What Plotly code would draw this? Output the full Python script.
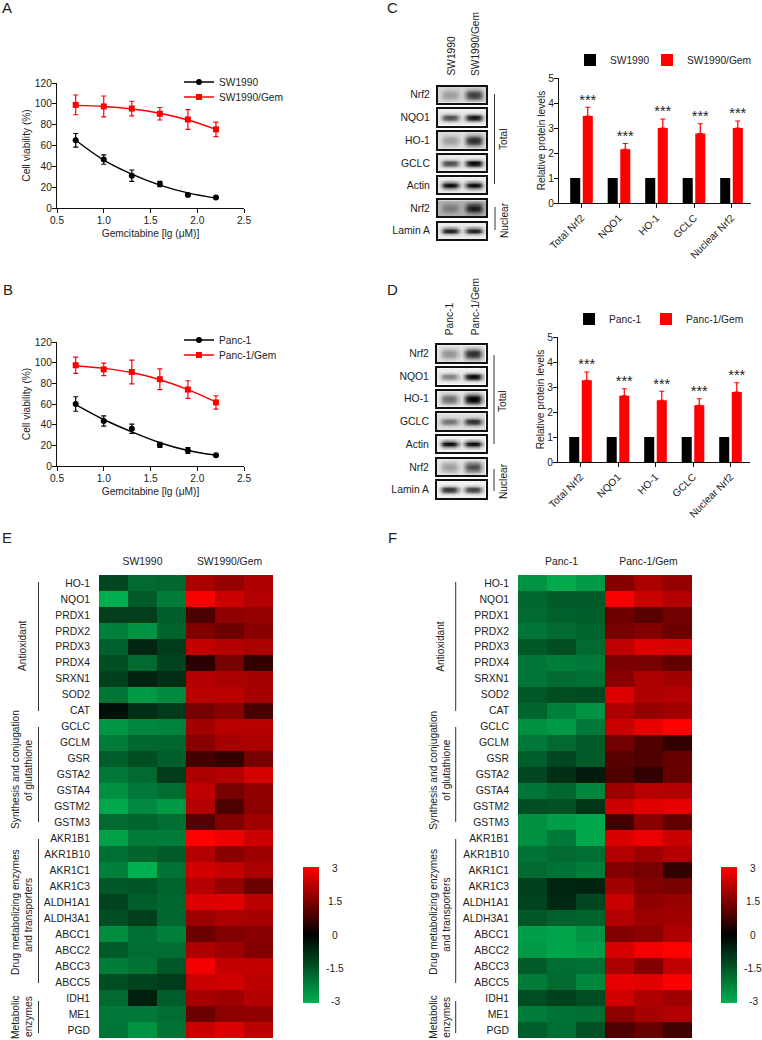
import plotly.graph_objects as go

W, H = 762, 1040
FONT = "Liberation Sans"
INK = "#222222"

# ---------- dose response ----------
dose = [0.7, 1.0, 1.3, 1.6, 1.9, 2.2]
sw = [65, 46.5, 31, 23, 12.5, 10]
sw_err = [6.5, 4.5, 5.5, 2.5, 1, 0.8]
sw_fit = [65, 46, 32.5, 22, 14.5, 9.5]
sw_gem = [99, 97.5, 95.5, 90.5, 85, 75.5]
sw_gem_err = [9.5, 10, 7, 6, 9.5, 7]
sw_gem_fit = [98.5, 97.5, 95, 91, 84.5, 75.5]
panc = [60, 43.5, 36, 20.5, 15, 10.5]
panc_err = [7, 5, 4.5, 2.5, 2.7, 0.8]
panc_fit = [59.5, 45, 33, 22.5, 15, 10.5]
panc_gem = [97.5, 93.5, 91, 84, 74, 61.5]
panc_gem_err = [7.8, 6, 11.5, 10, 8.5, 6.5]
panc_gem_fit = [97, 94.5, 90.5, 83.5, 74, 62]

# ---------- relative protein levels ----------
protein_cats = ["Total Nrf2", "NQO1", "HO-1", "GCLC", "Nuclear Nrf2"]
base_level = [1, 1, 1, 1, 1]
c_level = [3.48, 2.15, 3.0, 2.78, 3.0]
c_err = [0.35, 0.23, 0.36, 0.39, 0.28]
d_level = [3.27, 2.65, 2.47, 2.27, 2.8]
d_err = [0.33, 0.28, 0.36, 0.26, 0.37]

# ---------- western blot band darkness ----------
blot_names = ["Nrf2", "NQO1", "HO-1", "GCLC", "Actin", "Nrf2", "Lamin A"]
c_bg = [0.16, 0.08, 0.13, 0.08, 0.08, 0.30, 0.08]
c_lane1 = [0.22, 0.62, 0.24, 0.62, 0.9, 0.22, 0.8]
c_lane2 = [0.6, 0.85, 0.7, 0.9, 0.9, 0.6, 0.8]
d_bg = [0.10, 0.07, 0.08, 0.13, 0.05, 0.10, 0.05]
d_lane1 = [0.32, 0.42, 0.48, 0.42, 0.9, 0.28, 0.75]
d_lane2 = [0.72, 0.9, 0.92, 0.7, 0.9, 0.6, 0.7]
fuzzy = [True, False, True, False, False, True, False]
lane_profile = [0, 0.35, 0.9, 1, 1, 0.9, 0.45, 0.1, 0.45, 0.9, 1, 1, 0.9, 0.35, 0]
lane_index = [0, 0, 0, 0, 0, 0, 0, 0, 1, 1, 1, 1, 1, 1, 1]
row_sharp = [0, 0, 0.3, 0.95, 1, 0.35, 0, 0]
row_fuzzy = [0, 0.25, 0.7, 1, 1, 0.7, 0.25, 0]

# ---------- heat maps ----------
genes = ["HO-1", "NQO1", "PRDX1", "PRDX2", "PRDX3", "PRDX4", "SRXN1", "SOD2", "CAT",
         "GCLC", "GCLM", "GSR", "GSTA2", "GSTA4", "GSTM2", "GSTM3",
         "AKR1B1", "AKR1B10", "AKR1C1", "AKR1C3", "ALDH1A1", "ALDH3A1", "ABCC1", "ABCC2", "ABCC3", "ABCC5",
         "IDH1", "ME1", "PGD"]
e_values = [
    [-1.2, -1.8, -1.75, 2.0, 1.75, 2.05], [-2.95, -1.55, -2.1, 2.9, 2.4, 2.1],
    [-1.05, -1.05, -1.6, 0.9, 1.7, 1.75], [-2.2, -2.5, -1.7, 1.5, 1.3, 1.6],
    [-1.65, -0.65, -1.0, 2.3, 2.1, 2.0], [-1.35, -1.8, -1.15, 0.5, 1.4, 0.6],
    [-1.1, -0.6, -0.8, 2.1, 2.0, 1.95], [-2.0, -2.6, -2.35, 2.15, 2.2, 1.95],
    [-0.25, -0.8, -1.0, 1.4, 1.6, 0.85], [-2.55, -2.3, -2.25, 1.9, 2.15, 2.15],
    [-2.1, -1.75, -1.75, 1.6, 1.95, 2.0], [-1.6, -1.35, -1.6, 0.8, 0.6, 1.4],
    [-2.05, -1.8, -1.0, 2.0, 2.1, 2.5], [-2.45, -2.05, -1.85, 2.25, 1.4, 1.7],
    [-2.85, -2.35, -2.6, 2.1, 0.9, 1.65], [-1.8, -1.7, -1.85, 1.0, 1.5, 1.9],
    [-2.75, -2.1, -2.15, 3.0, 2.8, 2.4], [-1.9, -1.7, -1.55, 2.1, 1.6, 1.85],
    [-2.2, -3.0, -1.95, 2.45, 2.3, 2.0], [-1.5, -1.45, -1.7, 2.1, 1.75, 1.25],
    [-1.15, -1.6, -1.75, 2.6, 2.65, 2.2], [-1.35, -1.05, -1.75, 1.85, 2.0, 1.95],
    [-2.4, -1.9, -2.2, 1.25, 1.5, 1.6], [-1.55, -1.85, -1.85, 2.05, 1.85, 1.55],
    [-2.1, -1.95, -1.5, 2.85, 2.3, 2.3], [-1.35, -1.15, -1.0, 2.35, 2.45, 2.2],
    [-1.8, -0.55, -1.6, 1.95, 1.85, 2.1], [-2.05, -2.05, -1.85, 1.25, 1.65, 1.7],
    [-2.0, -2.5, -1.95, 2.35, 2.6, 2.2],
]
f_values = [
    [-2.5, -2.9, -2.6, 1.55, 2.0, 1.75], [-1.75, -1.55, -1.55, 2.9, 2.35, 2.1],
    [-1.8, -1.65, -1.6, 1.3, 1.05, 1.35], [-2.0, -1.8, -1.7, 1.4, 1.55, 1.25],
    [-1.5, -1.3, -1.8, 2.25, 2.6, 2.55], [-2.0, -2.15, -2.05, 1.45, 1.4, 1.15],
    [-2.0, -1.8, -1.9, 1.6, 2.0, 1.9], [-1.5, -1.3, -1.25, 2.6, 2.05, 2.1],
    [-1.7, -2.2, -2.5, 2.05, 1.75, 1.9], [-2.45, -2.6, -2.05, 2.35, 2.7, 3.0],
    [-2.05, -1.8, -1.55, 1.35, 0.95, 0.6], [-1.6, -1.2, -1.55, 1.05, 0.95, 1.2],
    [-1.2, -0.8, -0.45, 0.95, 0.6, 1.2], [-2.0, -1.75, -2.3, 1.85, 2.15, 2.1],
    [-1.35, -1.4, -0.9, 2.4, 2.65, 2.7], [-2.45, -2.7, -2.85, 0.8, 1.6, 1.15],
    [-2.45, -2.05, -2.85, 2.55, 2.75, 2.35], [-1.95, -1.8, -1.9, 2.1, 1.85, 2.1],
    [-1.8, -1.95, -2.15, 1.55, 1.4, 0.6], [-1.1, -0.65, -0.6, 1.9, 1.5, 1.4],
    [-1.15, -0.7, -1.2, 2.35, 1.7, 1.8], [-1.5, -1.65, -1.7, 2.1, 1.85, 1.9],
    [-2.7, -2.8, -2.5, 1.5, 1.65, 2.05], [-2.6, -2.8, -2.7, 2.5, 2.85, 3.0],
    [-1.55, -1.85, -1.9, 2.0, 1.55, 2.25], [-2.1, -1.8, -2.3, 2.7, 2.65, 2.95],
    [-1.3, -1.1, -1.3, 2.45, 2.05, 1.85], [-2.15, -1.95, -1.85, 1.65, 1.95, 2.1],
    [-1.6, -1.9, -1.4, 0.9, 1.2, 0.75],
]
scale_ticks = [3, 1.5, 0, -1.5, -3]
heat_scale = [[0, "#00B050"], [0.5, "#000000"], [1, "#FF0000"]]

fig = go.Figure()
layout = {}
annotations = []
shapes = []
axis_no = [0]
legend_no = [0]


def px(x):
    return x / W


def py(y):
    return 1 - y / H


def new_axes(x0, x1, y_top, y_bottom, xopts, yopts):
    axis_no[0] += 1
    n = axis_no[0]
    sfx = "" if n == 1 else str(n)
    layout["xaxis" + sfx] = dict(domain=[px(x0), px(x1)], anchor="y" + sfx, **xopts)
    layout["yaxis" + sfx] = dict(domain=[py(y_bottom), py(y_top)], anchor="x" + sfx, **yopts)
    return "x" + sfx, "y" + sfx


def new_legend(x, y):
    legend_no[0] += 1
    n = legend_no[0]
    key = "legend" if n == 1 else "legend" + str(n)
    layout[key] = dict(x=px(x), y=py(y), xanchor="left", yanchor="middle", bgcolor="rgba(0,0,0,0)",
                       borderwidth=0, font=dict(family=FONT, size=10.2, color=INK), itemclick=False)
    return key


def text(x, y, s, size=10.2, angle=0, xanchor="center", yanchor="middle"):
    annotations.append(dict(x=px(x), y=py(y), xref="paper", yref="paper", text=s, showarrow=False,
                            textangle=angle, xanchor=xanchor, yanchor=yanchor,
                            font=dict(family=FONT, size=size, color=INK)))


def vline(x, y0, y1):
    shapes.append(dict(type="line", xref="paper", yref="paper", x0=px(x), x1=px(x), y0=py(y0), y1=py(y1),
                       line=dict(color="#333333", width=1)))


AX = dict(showgrid=False, zeroline=False, showline=True, linecolor="#111111", linewidth=1.2,
          ticks="outside", ticklen=4, tickwidth=1.2, tickcolor="#111111",
          tickfont=dict(family=FONT, size=10.2, color=INK))


def curve_panel(y_top, y_bottom, name_a, a, a_err, a_fit, name_b, b, b_err, b_fit, leg_y):
    xa, ya = new_axes(57, 244, y_top, y_bottom,
                      dict(AX, range=[0.5, 2.5], tickvals=[0.5, 1, 1.5, 2, 2.5], tickformat=".1f", automargin=True,
                           ticklabelstandoff=-1,
                           title=dict(text="Gemcitabine [lg (μM)]", standoff=4,
                                      font=dict(family=FONT, size=10.2, color=INK))),
                      dict(AX, range=[0, 120], tickvals=[0, 20, 40, 60, 80, 100, 120], automargin=True,
                           ticklabelstandoff=-2,
                           title=dict(text="Cell viability (%)", standoff=2,
                                      font=dict(family=FONT, size=10.2, color=INK))))
    for name, vals, err, fit, color, sym, ly in [(name_a, a, a_err, a_fit, "#000000", "circle", leg_y[0]),
                                                 (name_b, b, b_err, b_fit, "#FF0000", "square", leg_y[1])]:
        fig.add_trace(go.Scatter(x=dose, y=fit, mode="lines", showlegend=False, xaxis=xa, yaxis=ya,
                                 line=dict(color=color, width=1.4, shape="spline")))
        fig.add_trace(go.Scatter(x=dose, y=vals, mode="markers", showlegend=False, xaxis=xa, yaxis=ya,
                                 marker=dict(color=color, symbol=sym, size=6),
                                 error_y=dict(type="data", array=err, color=color, thickness=1.2, width=2.5)))
        fig.add_trace(go.Scatter(x=[None], y=[None], name=name, mode="lines+markers", xaxis=xa, yaxis=ya,
                                 line=dict(color=color, width=1.4), marker=dict(color=color, symbol=sym, size=6),
                                 legend=new_legend(179, ly)))


def bar_panel(x0, x1, y_top, y_bottom, name_a, name_b, level, err, leg_y, leg_x):
    xa, ya = new_axes(x0, x1, y_top, y_bottom,
                      dict(AX, range=[-0.6, 4.52], tickvals=list(range(len(protein_cats))),
                           ticktext=protein_cats, tickangle=-45),
                      dict(AX, range=[0, 5], tickvals=[0, 1, 2, 3, 4, 5], automargin=True,
                           ticklabelstandoff=-2,
                           title=dict(text="Relative protein levels", standoff=0,
                                      font=dict(family=FONT, size=10.2, color=INK))))
    xs = list(range(len(protein_cats)))
    fig.add_trace(go.Bar(x=xs, y=base_level, name=name_a, marker=dict(color="#000000", line_width=0),
                         xaxis=xa, yaxis=ya, legend=new_legend(leg_x[0], leg_y)))
    fig.add_trace(go.Bar(x=xs, y=level, name=name_b, marker=dict(color="#FF0000", line_width=0),
                         error_y=dict(type="data", symmetric=False, array=err, arrayminus=[0] * len(err),
                                      color="#FF0000", thickness=1.2, width=2.5),
                         xaxis=xa, yaxis=ya, legend=new_legend(leg_x[1], leg_y)))
    fig.add_trace(go.Scatter(x=[i + 0.1675 for i in xs], y=[v + e - 0.04 for v, e in zip(level, err)],
                             mode="text", text=["***"] * len(xs), textposition="top center", showlegend=False,
                             textfont=dict(family=FONT, size=14.5, color=INK), xaxis=xa, yaxis=ya))


def blots(x0, x1, tops, bottoms, bg, lane1, lane2):
    for i, nm in enumerate(blot_names):
        rows = row_fuzzy if fuzzy[i] else row_sharp
        z = [[bg[i] + (lane1[i] if lane_index[c] == 0 else lane2[i]) * lane_profile[c] * r
              for c in range(len(lane_profile))] for r in rows]
        xa, ya = new_axes(x0, x1, tops[i], bottoms[i],
                          dict(showgrid=False, zeroline=False, showticklabels=False, ticks="", showline=True,
                               mirror=True, linecolor="#111111", linewidth=2, range=[0, len(lane_profile) - 1]),
                          dict(showgrid=False, zeroline=False, ticks="", showline=True, mirror=True,
                               linecolor="#111111", linewidth=2, range=[0, len(rows) - 1],
                               tickvals=[(len(rows) - 1) / 2], ticktext=[nm], ticklabelstandoff=4,
                               tickfont=dict(family=FONT, size=10.4, color=INK)))
        fig.add_trace(go.Heatmap(z=z, zmin=0, zmax=1, zsmooth="best", showscale=False, hoverinfo="skip",
                                 colorscale=[[0, "#FFFFFF"], [1, "#000000"]], xaxis=xa, yaxis=ya))


def heat_panel(x0, x1, values, group_a, group_b, bar_x):
    xa, ya = new_axes(x0, x1, 575, 1038,
                      dict(side="top", showgrid=False, zeroline=False, ticks="", showline=False,
                           range=[-0.5, 5.5], tickvals=[1, 4], ticktext=[group_a, group_b], ticklabelstandoff=7,
                           tickfont=dict(family=FONT, size=10.4, color=INK)),
                      dict(showgrid=False, zeroline=False, ticks="", showline=False,
                           range=[len(genes) - 0.5, -0.5], tickvals=list(range(len(genes))), ticktext=genes,
                           ticklabelstandoff=8, tickfont=dict(family=FONT, size=10.4, color=INK)))
    fig.add_trace(go.Heatmap(z=values, x=list(range(6)), y=list(range(len(genes))), zmin=-3, zmax=3,
                             colorscale=heat_scale, xaxis=xa, yaxis=ya,
                             colorbar=dict(x=px(bar_x), xanchor="left", y=py(935), yanchor="middle",
                                           lenmode="pixels", len=136, thickness=16, thicknessmode="pixels",
                                           outlinewidth=0, showticklabels=False, ticks="", xpad=0, ypad=0,
                                           tickvals=scale_ticks)))
    for v in scale_ticks:
        text(bar_x + 32, 935 - v * 22.3, str(v))


def side_labels(line_x, x_one, x_two):
    vline(line_x, 582, 711)
    vline(line_x, 727, 822)
    vline(line_x, 839, 983)
    vline(line_x, 1001, 1033)
    text((x_one + x_two) / 2 + 0.5, 646, "Antioxidant", angle=-90)
    text(x_one, 770, "Synthesis and conjugation", angle=-90)
    text(x_two, 770, "of glutathione", angle=-90)
    text(x_one, 912, "Drug metabolizing enzymes", angle=-90)
    text(x_two, 915, "and transporters", angle=-90)
    text(x_one, 1017, "Metabolic", angle=-90)
    text(x_two, 1017, "enzymes", angle=-90)


curve_panel(83, 208, "SW1990", sw, sw_err, sw_fit, "SW1990/Gem", sw_gem, sw_gem_err, sw_gem_fit, (82, 97))
curve_panel(342, 466, "Panc-1", panc, panc_err, panc_fit, "Panc-1/Gem", panc_gem, panc_gem_err, panc_gem_fit, (340, 355))
bar_panel(559, 751, 78, 203, "SW1990", "SW1990/Gem", c_level, c_err, 60, (570, 647))
bar_panel(558, 750, 337, 462, "Panc-1", "Panc-1/Gem", d_level, d_err, 319, (569, 646))

blots(438, 486, [86.5, 109.3, 132, 155, 177.3, 200.3, 223], [103, 125.7, 148.7, 171.4, 193.4, 216, 238.7],
      c_bg, c_lane1, c_lane2)
blots(437, 485.5, [345.3, 368.3, 390.6, 413.3, 436, 459, 481.3], [362, 384.7, 407, 430, 452, 475, 498],
      d_bg, d_lane1, d_lane2)

heat_panel(99, 273, e_values, "SW1990", "SW1990/Gem", 303)
heat_panel(518, 692, f_values, "Panc-1", "Panc-1/Gem", 721)

# Blot annotations
text(451, 78, "SW1990", angle=-90, yanchor="bottom")
text(476, 78, "SW1990/Gem", angle=-90, yanchor="bottom")
text(449, 337.7, "Panc-1", angle=-90, yanchor="bottom")
text(475, 337.7, "Panc-1/Gem", angle=-90, yanchor="bottom")
vline(494.5, 94, 184)
vline(495, 207, 230)
vline(494, 355, 444)
vline(494, 469, 491)
text(504, 139, "Total", angle=-90)
text(504, 220, "Nuclear", angle=-90)
text(503, 401, "Total", angle=-90)
text(503, 481, "Nuclear", angle=-90)

side_labels(38.5, 15, 28)
side_labels(455.7, 432.7, 445.7)

# Panel letters
for letter, lx, ly in [("A", 0, 8), ("B", 1, 289), ("C", 385, 8), ("D", 385, 289), ("E", 0, 537), ("F", 386, 537)]:
    text(lx, ly, letter, size=15, xanchor="left")

fig.update_layout(width=W, height=H, margin=dict(l=0, r=0, t=0, b=0, autoexpand=False), paper_bgcolor="white",
                  plot_bgcolor="white", barmode="group", bargap=0.33, bargroupgap=0.2,
                  annotations=annotations, shapes=shapes, hovermode=False, **layout)
fig.write_html("out.html", config=dict(displayModeBar=False),
               post_script="document.body.style.margin='0';")
